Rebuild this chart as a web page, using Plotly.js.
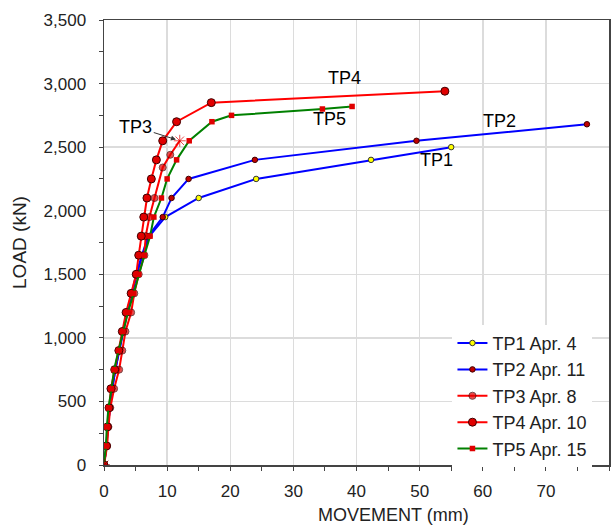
<!DOCTYPE html>
<html><head><meta charset="utf-8">
<script src="https://cdn.plot.ly/plotly-3.0.1.min.js"></script>
<style>html,body{margin:0;padding:0;background:#fff}#chart{width:615px;height:527px}</style>
</head><body><div id="chart"></div>
<script>
// Load steps (kN) and movements (mm)
const tp1Load = [0,150,300,450,600,750,900,1050,1200,1350,1500,1650,1800,1950,2100,2250,2400,2500];
const tp1Move = [0,0.4,0.6,0.9,1.3,1.8,2.4,3.0,3.7,4.5,5.2,6.1,7.2,9.7,15.0,24.1,42.3,55.0];

const tp2Load = [0,150,300,450,600,750,900,1050,1200,1350,1500,1650,1800,1950,2100,2250,2400,2550,2680];
const tp2Move = [0,0.4,0.6,0.9,1.3,1.8,2.4,3.0,3.6,4.4,5.1,6.0,7.0,9.3,10.7,13.4,23.9,49.5,76.5];

const tp3Load = [0,150,300,450,600,750,900,1050,1200,1350,1500,1650,1800,1950,2100,2340,2440,2550];
const tp3Move = [0,0.5,0.7,1.0,1.6,2.4,2.9,3.4,4.3,4.8,5.5,6.4,6.6,7.2,8.0,9.3,10.5,12.0];

const tp4Load = [0,150,300,450,600,750,900,1050,1200,1350,1500,1650,1800,1950,2100,2250,2400,2550,2700,2850,2940];
const tp4Move = [0,0.4,0.55,0.8,1.1,1.7,2.35,2.9,3.5,4.3,5.1,5.5,5.9,6.3,6.8,7.5,8.3,9.3,11.5,17.0,54.0];

const tp5Load = [0,150,300,450,600,750,900,1050,1200,1350,1500,1650,1800,1950,2100,2250,2400,2550,2700,2750,2800,2820];
const tp5Move = [0,0.3,0.45,0.7,1.2,1.6,2.3,3.0,3.8,4.7,5.5,6.4,7.3,7.9,9.1,10.0,11.5,13.5,17.1,20.2,34.6,39.3];

const seriesNames = ['TP1 Apr. 4','TP2 Apr. 11','TP3 Apr. 8','TP4 Apr. 10','TP5 Apr. 15'];
const curveLabels = ['TP1','TP2','TP3','TP4','TP5'];
const xTitle = 'MOVEMENT (mm)';
const yTitle = 'LOAD (kN)';

const last3 = tp3Load.length - 1;
const tp3Symbols = tp3Load.map((v,i)=> i===last3 ? 'asterisk-open' : 'circle');
const tp3Sizes = tp3Load.map((v,i)=> i===last3 ? 10 : 7);
const tp3LineColors = tp3Load.map((v,i)=> i===last3 ? '#222' : '#400000');

const traces = [
  {x:tp1Move,y:tp1Load,name:seriesNames[0],mode:'lines+markers',
   line:{color:'#0000ff',width:2},marker:{symbol:'circle',size:5.5,color:'#ffff00',line:{color:'#333',width:1}}},
  {x:tp2Move,y:tp2Load,name:seriesNames[1],mode:'lines+markers',
   line:{color:'#0000ff',width:2},marker:{symbol:'circle',size:5.5,color:'#c00000',line:{color:'#400000',width:1}}},
  {x:tp3Move,y:tp3Load,name:seriesNames[2],mode:'lines+markers',
   line:{color:'#ff0000',width:2},marker:{symbol:tp3Symbols,size:tp3Sizes,color:'#e00000',line:{color:tp3LineColors,width:1}}},
  {x:tp4Move,y:tp4Load,name:seriesNames[3],mode:'lines+markers',
   line:{color:'#ff0000',width:2},marker:{symbol:'circle',size:8,color:'#e00000',line:{color:'#400000',width:1}}},
  {x:tp5Move,y:tp5Load,name:seriesNames[4],mode:'lines+markers',
   line:{color:'#008000',width:2},marker:{symbol:'square',size:5.5,color:'#e00000',line:{width:0}}},
  {x:[tp3Move[0]],y:[tp3Load[0]],mode:'markers',showlegend:false,hoverinfo:'skip',
   marker:{symbol:'asterisk-open',size:10,color:'#8b0000',line:{color:'#8b0000',width:1}}}
];

const fam = 'Liberation Sans, Arial, sans-serif';
const font = {family:fam, color:'#222'};

const layout = {
  width:615, height:527,
  margin:{l:104,r:6,t:20,b:62},
  paper_bgcolor:'#fff', plot_bgcolor:'#fff',
  font:Object.assign({size:17},font),
  showlegend:true,
  legend:{x:0.69,y:-0.004,xanchor:'left',yanchor:'bottom',bgcolor:'#fff',borderwidth:0,
          font:Object.assign({size:18},font),tracegroupgap:0,itemwidth:30},
  xaxis:{range:[0,80],dtick:10,tick0:0,showgrid:true,gridcolor:'#dcdcdc',gridwidth:1.5,
         ticks:'outside',ticklen:4,tickcolor:'#444',ticklabelstandoff:6,
         minor:{dtick:5,ticks:'outside',ticklen:4,tickcolor:'#444',showgrid:false},
         showline:true,linecolor:'#444',linewidth:1.5,mirror:true,zeroline:false,
         tickfont:Object.assign({size:17},font)},
  yaxis:{range:[0,3500],dtick:500,tick0:0,tickformat:',d',showgrid:true,gridcolor:'#dcdcdc',gridwidth:1.5,
         ticks:'outside',ticklen:4,tickcolor:'#444',ticklabelstandoff:9,
         minor:{dtick:250,ticks:'outside',ticklen:4,tickcolor:'#444',showgrid:false},
         showline:true,linecolor:'#444',linewidth:1.5,mirror:true,zeroline:false,
         title:{text:yTitle,font:Object.assign({size:19},font),standoff:12},
         tickfont:Object.assign({size:17},font)},
  annotations:[
    {xref:'paper',yref:'paper',x:0.573,y:-0.112,xanchor:'center',yanchor:'middle',showarrow:false,
     text:xTitle,font:Object.assign({size:18},font)},
    {x:38.1,y:3040,text:curveLabels[3],showarrow:false,font:{family:fam,size:18,color:'#000'}},
    {x:35.7,y:2724,text:curveLabels[4],showarrow:false,font:{family:fam,size:18,color:'#000'}},
    {x:62.7,y:2709,text:curveLabels[1],showarrow:false,font:{family:fam,size:18,color:'#000'}},
    {x:52.7,y:2402,text:curveLabels[0],showarrow:false,font:{family:fam,size:18,color:'#000'}},
    {x:tp3Move[last3],y:tp3Load[last3],text:curveLabels[2],showarrow:true,
     ax:-44,ay:-14,arrowhead:2,arrowsize:1,arrowwidth:1,arrowcolor:'#333',standoff:4,
     font:{family:fam,size:18,color:'#000'}}
  ]
};

Plotly.newPlot('chart',traces,layout,{displayModeBar:false,staticPlot:true});
</script></body></html>
